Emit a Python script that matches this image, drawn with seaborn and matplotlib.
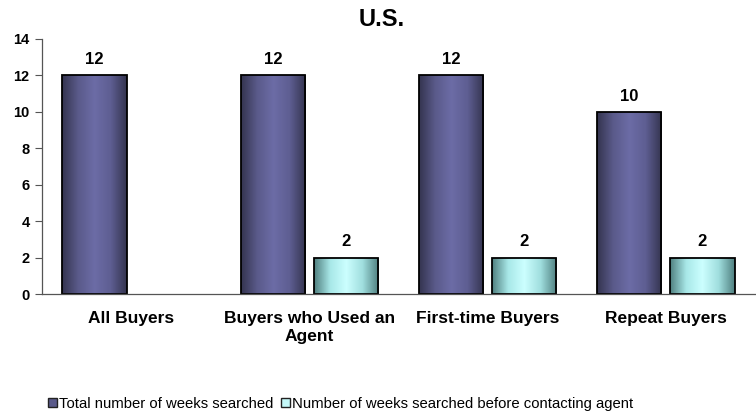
import numpy as np
import pandas as pd
import matplotlib
matplotlib.use("Agg")
import matplotlib.pyplot as plt
import seaborn as sns
from matplotlib.patches import Patch
from matplotlib.colors import LinearSegmentedColormap

categories = ["All Buyers", "Buyers who Used an\nAgent", "First-time Buyers", "Repeat Buyers"]
series_names = ["Total number of weeks searched", "Number of weeks searched before contacting agent"]
total_weeks = [12, 12, 12, 10]
before_agent = [np.nan, 2, 2, 2]
yticks = [0, 2, 4, 6, 8, 10, 12, 14]

sns.set_theme(style="white")
plt.rcParams['font.family'] = ['Liberation Sans', 'DejaVu Sans']
plt.rcParams['text.color'] = 'black'
plt.rcParams['xtick.color'] = 'black'
plt.rcParams['ytick.color'] = 'black'

df = pd.DataFrame({
    "category": categories * 2,
    "series": [series_names[0]] * 4 + [series_names[1]] * 4,
    "value": total_weeks + before_agent,
})

fig = plt.figure(figsize=(7.56, 4.12), dpi=100)
ax = fig.add_axes([42/756, 1-294/412, 713/756, 255/412])

base_colors = ["#5f5f95", "#b0f0f0"]
sns.barplot(data=df, x="category", y="value", hue="series", palette=base_colors,
            ax=ax, width=0.82, gap=0.12, legend=False, edgecolor="black", linewidth=1.3)

cmaps = [
    LinearSegmentedColormap.from_list("p", ["#34344f", "#5a5a8a", "#6c6ca6", "#5e5e92", "#34344f"]),
    LinearSegmentedColormap.from_list("c", ["#4f7f7f", "#a8e8e8", "#ccffff", "#a0dede", "#4f7f7f"]),
]
grad = np.linspace(0, 1, 256).reshape(1, -1)
for i, cont in enumerate(ax.containers):
    for bar in cont:
        h = bar.get_height()
        if not np.isfinite(h) or h == 0:
            continue
        x0, w = bar.get_x(), bar.get_width()
        im = ax.imshow(grad, cmap=cmaps[i], aspect="auto",
                       extent=[x0, x0 + w, 0, h], zorder=bar.get_zorder() + 0.1)
        im.set_clip_path(bar)
        bar.set_facecolor("none")
        bar.set_zorder(bar.get_zorder() + 0.2)
    labels = [("" if not np.isfinite(b.get_height()) else f"{b.get_height():.0f}") for b in cont]
    ax.bar_label(cont, labels=labels, padding=6, fontsize=12, fontweight="bold")

ax.set_xlim(-0.5, 3.5)
ax.set_ylim(0, 14)
ax.set_yticks(yticks)
ax.set_yticklabels([str(t) for t in yticks], fontsize=10.5, fontweight="bold")
ax.set_xticks(range(4))
ax.set_xticklabels(categories, fontsize=12.5, fontweight="bold", linespacing=1.25)
ax.set_xticks([0.5, 1.5, 2.5], minor=True)
ax.tick_params(axis="x", which="major", length=0, pad=12)
ax.tick_params(axis="x", which="minor", length=5, width=0.8, color="#555555", direction="out")
ax.tick_params(axis="y", length=5, width=0.8, color="#555555", direction="out", pad=4, left=True)
ax.set_xlabel("")
ax.set_ylabel("")
for s in ["top", "right"]:
    ax.spines[s].set_visible(False)
for s in ["left", "bottom"]:
    ax.spines[s].set_color("#555555")
    ax.spines[s].set_linewidth(0.9)
ax.grid(False)
fig.text(0.505, 1 - 19/412, "U.S.", fontsize=17, fontweight="bold", ha="center", va="center")

handles = [Patch(facecolor="#5a5a8a", edgecolor="#222222", linewidth=1.0),
           Patch(facecolor="#c4f8f8", edgecolor="#222222", linewidth=1.0)]
fig.legend(handles, series_names, loc="lower left", bbox_to_anchor=(36/756, -0.026), ncol=2,
           frameon=False, fontsize=10.7, handlelength=0.6, handleheight=0.6,
           handletextpad=0.15, columnspacing=0.5, borderpad=0.3)

fig.savefig("out.png", dpi=100)
